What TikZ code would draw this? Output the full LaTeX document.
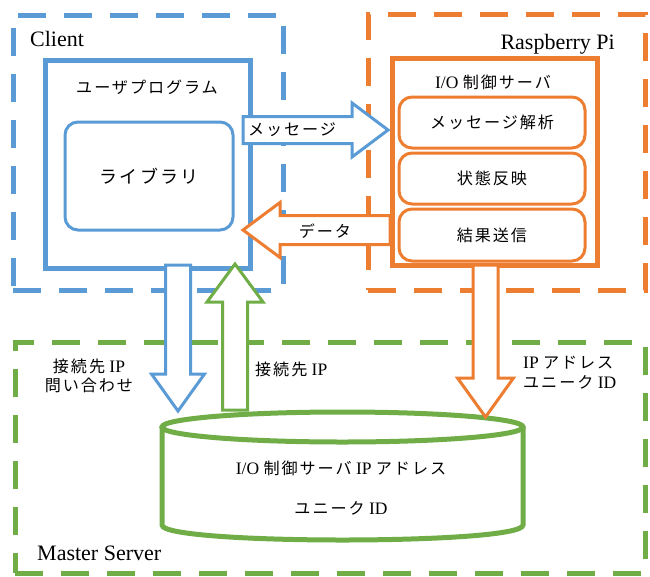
\documentclass[tikz,border=0pt]{standalone}
\usepackage{fontspec}
\setmainfont{Liberation Serif}
\newfontfamily\jpf[LetterSpace=12, Scale=0.92]{Noto Sans CJK JP}
\newcommand\J[1]{{\jpf #1}}
\usetikzlibrary{calc}
\definecolor{cblue}{HTML}{5B9BD5}
\definecolor{corange}{HTML}{ED7D31}
\definecolor{cgreen}{HTML}{70AD47}
\newcommand\barrow[6]{%
  \path ($(#3)!#6pt!(#2)$) coordinate (bH);
  \draw[#1] ($(#2)!#4pt!90:(#3)$) -- ($(bH)!#4pt!90:(#3)$)
    -- ($(bH)!#5pt!90:(#3)$) -- (#3)
    -- ($(bH)!#5pt!-90:(#3)$) -- ($(bH)!#4pt!-90:(#3)$)
    -- ($(#2)!#4pt!-90:(#3)$) -- cycle;}
\begin{document}
\begin{tikzpicture}[x=1pt,y=-1pt,
  dashbox/.style={line width=5pt, dash pattern=on 28pt off 18pt, minimum width=#1},
  solidbox/.style={line width=5pt, fill=white, inner sep=0pt},
  innerbox/.style={line width=3pt, rounded corners=13pt, fill=white, inner sep=0pt},
  blockarrow/.style={line width=3pt, fill=white, line join=miter},
  lbl/.style={font=\fontsize{22}{24}\selectfont, inner sep=0pt},
  jtxt/.style={font=\fontsize{17.5}{20}\selectfont, inner sep=0pt, align=center},
]
\useasboundingbox (0,0) rectangle (650,576);
% containers
\node[draw=cblue, dashbox=270, minimum height=275] (client) at (148,152.5) {};
\node[draw=corange, dashbox=277, minimum height=276] (rpi) at (506.5,152) {};
\node[draw=cgreen, dashbox=630, minimum height=231] (master) at (330,457.5) {};
\node[lbl, anchor=west] (clientlbl) at (30,39) {Client};
\node[lbl, anchor=east] (rpilbl) at (615,44) {Raspberry Pi};
\node[lbl, anchor=west] (masterlbl) at (37,553) {Master Server};
% client side
\node[draw=cblue, solidbox, minimum width=205, minimum height=208] (user) at (147.5,164) {};
\node[jtxt] (usertxt) at (147,87) {\J{ユーザプログラム}};
\node[draw=cblue, innerbox, minimum width=168, minimum height=108, jtxt, font=\fontsize{19.5}{22}\selectfont] (lib) at (149,176) {\J{ライブラリ}};
% raspberry pi side
\node[draw=corange, solidbox, minimum width=205, minimum height=207] (io) at (494.5,161.5) {};
\node[jtxt] (iotxt) at (493,82) {I/O \J{制御サーバ}};
\node[draw=corange, innerbox, minimum width=186, minimum height=51, jtxt] (parse) at (492,122.5) {\J{メッセージ解析}};
\node[draw=corange, innerbox, minimum width=186, minimum height=51, jtxt] (state) at (492,178.5) {\J{状態反映}};
\node[draw=corange, innerbox, minimum width=186, minimum height=52, jtxt] (send) at (492,235) {\J{結果送信}};
% database cylinder
\draw[cgreen, line width=5pt, fill=white] (162,427) -- (162,525)
  .. controls (162,545) and (523,545) .. (523,525) -- (523,427);
\draw[cgreen, line width=5pt] (342.5,427) ellipse [x radius=180.5, y radius=15];
\node[jtxt] (dbt1) at (341,468) {I/O \J{制御サーバ} IP \J{アドレス}};
\node[jtxt] (dbt2) at (341,508) {\J{ユニーク} ID};
% connector end points
\coordinate (msgS) at (243,130);  \coordinate (msgT) at (388,130);
\coordinate (datS) at (390,230);  \coordinate (datT) at (243,230);
\coordinate (qS) at (178,265);    \coordinate (qT) at (178,411);
\coordinate (rS) at (235,410);    \coordinate (rT) at (235,264);
\coordinate (uS) at (485.5,265);  \coordinate (uT) at (485.5,417);
% block arrows
\barrow{cblue, blockarrow}{msgS}{msgT}{13.5}{27}{36}
\barrow{corange, blockarrow}{datS}{datT}{14.5}{27.5}{37}
\barrow{cblue, blockarrow}{qS}{qT}{12.5}{26.5}{37}
\barrow{cgreen, blockarrow}{rS}{rT}{12.5}{28}{38}
\barrow{corange, blockarrow}{uS}{uT}{12.5}{28}{39}
% arrow labels
\node[jtxt] (msgl) at (292,130) {\J{メッセージ}};
\node[jtxt] (datl) at (325,231) {\J{データ}};
\node[jtxt, font=\fontsize{17.5}{19}\selectfont] (ql) at (89,376) {\J{接続先} IP\\\J{問い合わせ}};
\node[jtxt, anchor=west] (rl) at (255,369) {\J{接続先} IP};
\node[jtxt, anchor=west, align=left, font=\fontsize{17.5}{20}\selectfont] (ul) at (523,373) {IP \J{アドレス}\\\J{ユニーク} ID};
\end{tikzpicture}
\end{document}
